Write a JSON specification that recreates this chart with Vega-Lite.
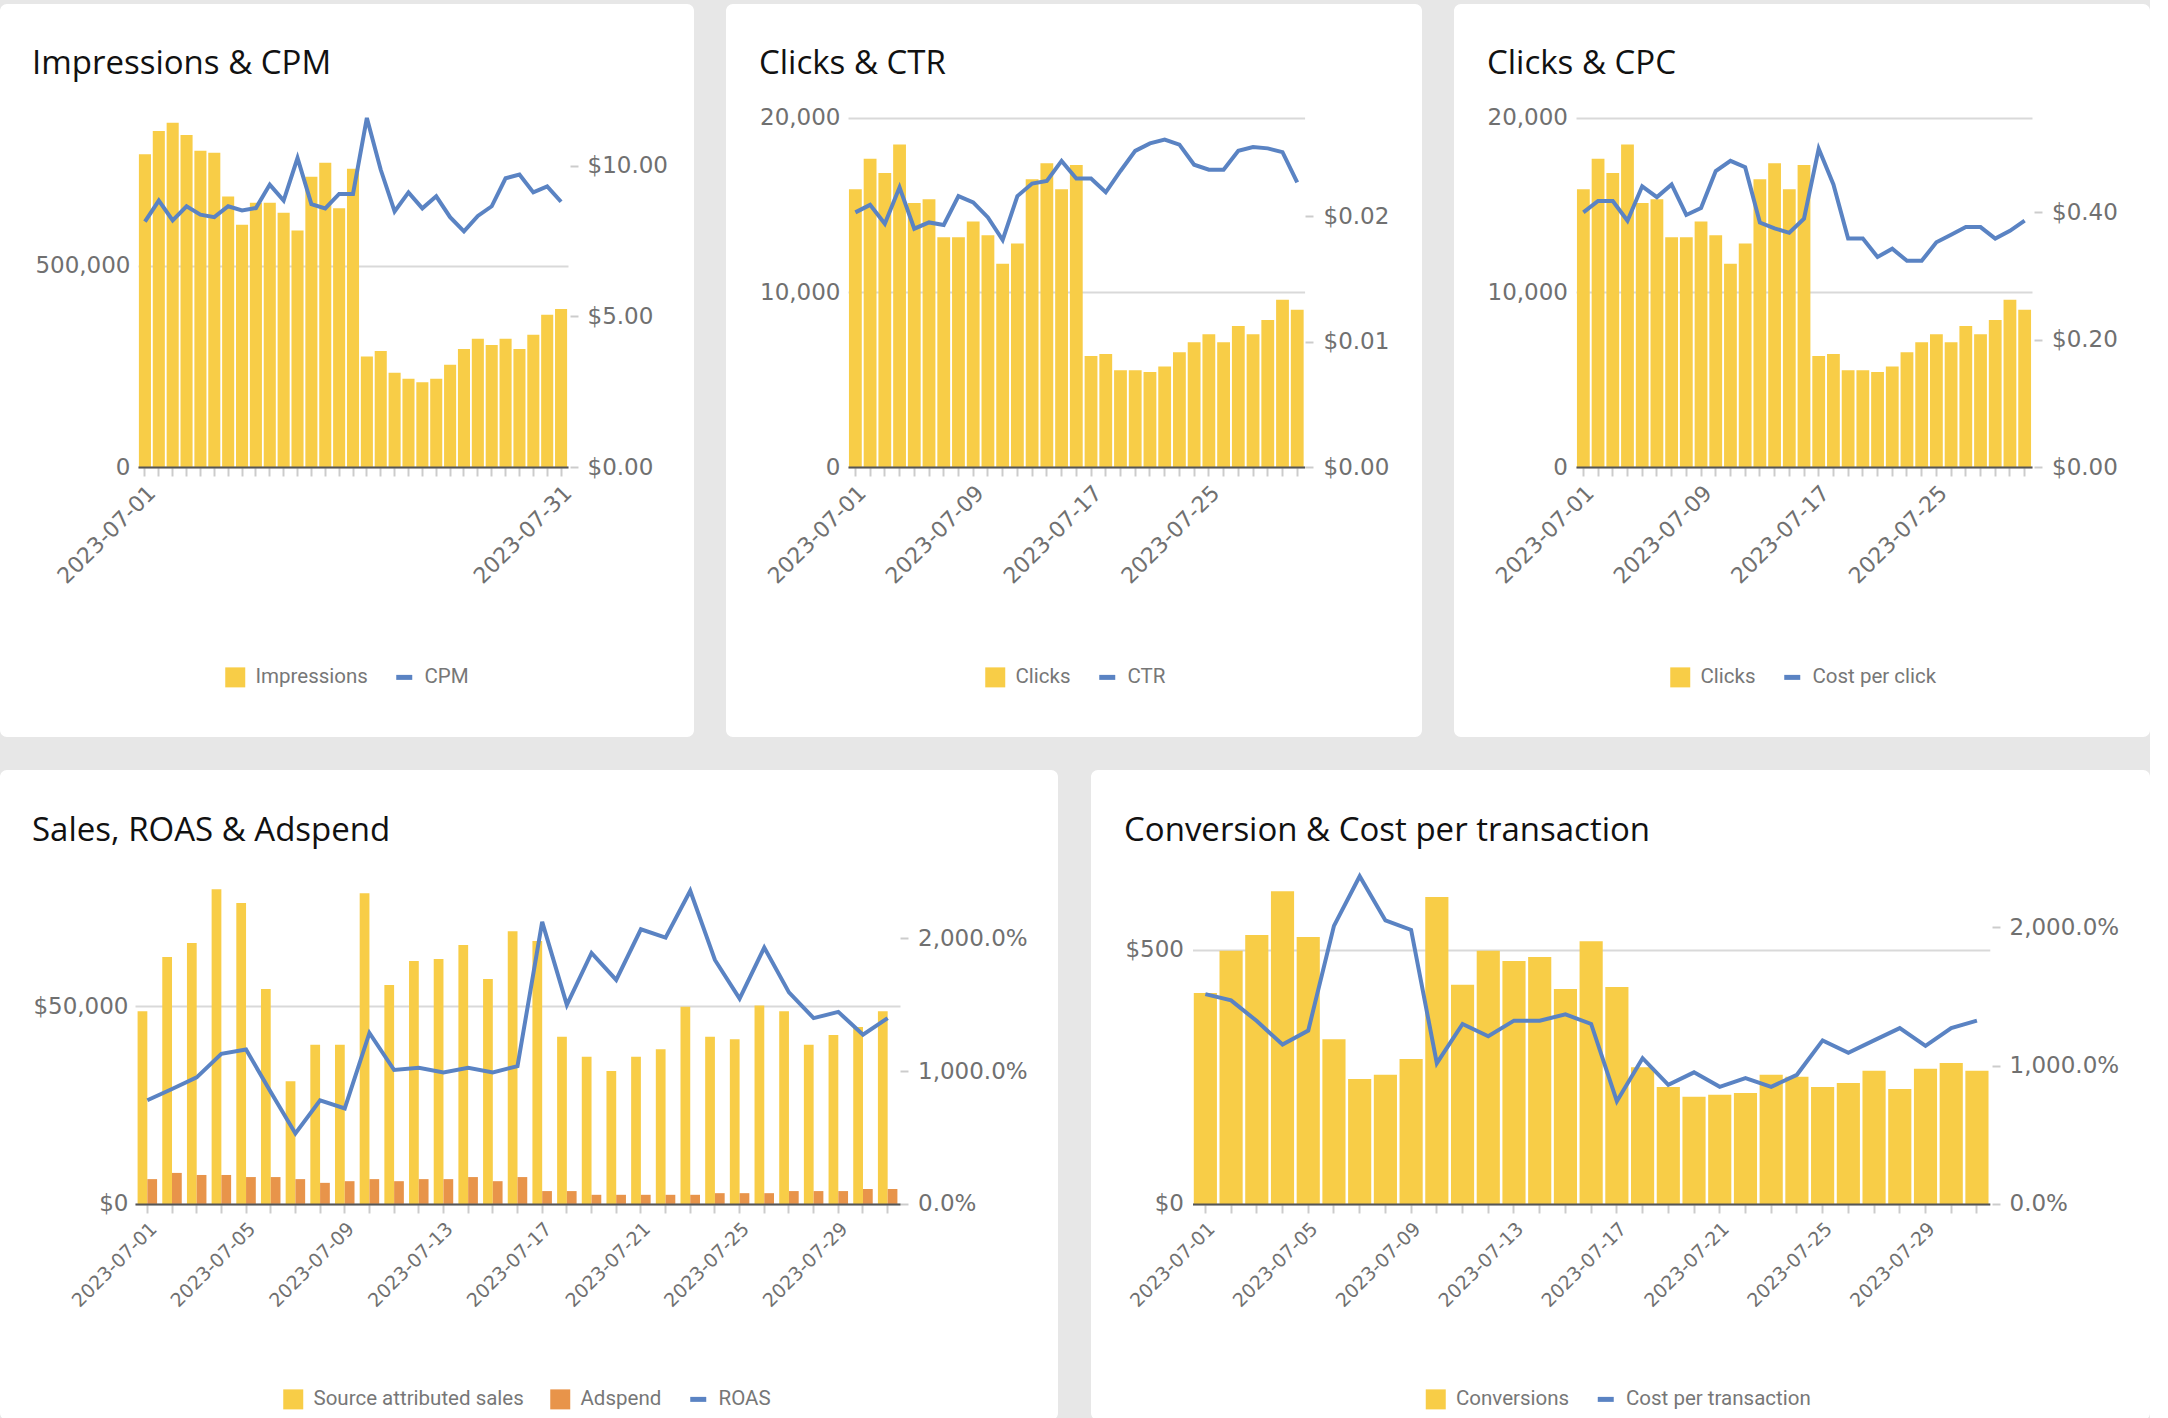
{
  "$schema": "https://vega.github.io/schema/vega-lite/v6.json",
  "background": "#e7e7e7",
  "padding": {"left": 0, "top": 4, "right": 0, "bottom": 0},
  "config": {
    "view": {"fill": "white", "stroke": null, "cornerRadius": 7},
    "axis": {"labelFont": "DejaVu Sans", "labelColor": "#707070", "labelFontSize": 23, "gridColor": "#d9d9d9", "gridWidth": 2, "tickColor": "#cccccc", "tickWidth": 2, "domainColor": "#555555", "domainWidth": 2},
    "title": {"font": "Open Sans", "fontSize": 33, "fontWeight": "normal", "color": "#111111", "anchor": "start", "frame": "group", "baseline": "alphabetic"},
    "legend": {"orient": "none", "direction": "horizontal", "symbolSize": 400, "labelFont": "Roboto", "labelFontSize": 20.5, "labelColor": "#777777", "labelOffset": 10, "columnPadding": 26, "labelLimit": 400, "symbolStrokeWidth": 0}
  },
  "data": {"values": [
    {"date": "2023-07-01", "impressions": 776000, "cpm": 8.14, "clicks": 15900, "ctr": 0.0203, "cpc": 0.400, "sales": 48700, "adspend": 6260, "roas": 7.81, "conversions": 415, "cpt": 15.18},
    {"date": "2023-07-02", "impressions": 834000, "cpm": 8.84, "clicks": 17640, "ctr": 0.0209, "cpc": 0.418, "sales": 62400, "adspend": 7830, "roas": 8.66, "conversions": 498, "cpt": 14.73},
    {"date": "2023-07-03", "impressions": 854000, "cpm": 8.18, "clicks": 16820, "ctr": 0.0194, "cpc": 0.418, "sales": 65900, "adspend": 7310, "roas": 9.53, "conversions": 529, "cpt": 13.23},
    {"date": "2023-07-04", "impressions": 824000, "cpm": 8.65, "clicks": 18450, "ctr": 0.0223, "cpc": 0.387, "sales": 79500, "adspend": 7310, "roas": 11.31, "conversions": 615, "cpt": 11.53},
    {"date": "2023-07-05", "impressions": 785000, "cpm": 8.37, "clicks": 15110, "ctr": 0.0190, "cpc": 0.441, "sales": 76000, "adspend": 6780, "roas": 11.63, "conversions": 525, "cpt": 12.54},
    {"date": "2023-07-06", "impressions": 780000, "cpm": 8.29, "clicks": 15330, "ctr": 0.0195, "cpc": 0.424, "sales": 54300, "adspend": 6780, "roas": 8.44, "conversions": 324, "cpt": 20.12},
    {"date": "2023-07-07", "impressions": 671000, "cpm": 8.65, "clicks": 13150, "ctr": 0.0193, "cpc": 0.444, "sales": 31000, "adspend": 6260, "roas": 5.31, "conversions": 246, "cpt": 23.71},
    {"date": "2023-07-08", "impressions": 601000, "cpm": 8.51, "clicks": 13150, "ctr": 0.0216, "cpc": 0.396, "sales": 40200, "adspend": 5320, "roas": 7.81, "conversions": 254, "cpt": 20.51},
    {"date": "2023-07-09", "impressions": 656000, "cpm": 8.59, "clicks": 14050, "ctr": 0.0211, "cpc": 0.407, "sales": 40200, "adspend": 5740, "roas": 7.19, "conversions": 285, "cpt": 19.82},
    {"date": "2023-07-10", "impressions": 656000, "cpm": 9.37, "clicks": 13260, "ctr": 0.0199, "cpc": 0.465, "sales": 78500, "adspend": 6260, "roas": 12.88, "conversions": 604, "cpt": 10.18},
    {"date": "2023-07-11", "impressions": 631000, "cpm": 8.84, "clicks": 11630, "ctr": 0.0181, "cpc": 0.481, "sales": 55300, "adspend": 5740, "roas": 10.09, "conversions": 431, "cpt": 13.02},
    {"date": "2023-07-12", "impressions": 587000, "cpm": 10.25, "clicks": 12800, "ctr": 0.0216, "cpc": 0.471, "sales": 61400, "adspend": 6260, "roas": 10.25, "conversions": 498, "cpt": 12.13},
    {"date": "2023-07-13", "impressions": 720000, "cpm": 8.72, "clicks": 16470, "ctr": 0.0226, "cpc": 0.384, "sales": 61900, "adspend": 6260, "roas": 9.91, "conversions": 478, "cpt": 13.26},
    {"date": "2023-07-14", "impressions": 755000, "cpm": 8.58, "clicks": 17390, "ctr": 0.0228, "cpc": 0.375, "sales": 65400, "adspend": 6780, "roas": 10.25, "conversions": 486, "cpt": 13.26},
    {"date": "2023-07-15", "impressions": 642000, "cpm": 9.06, "clicks": 15900, "ctr": 0.0244, "cpc": 0.368, "sales": 56800, "adspend": 5740, "roas": 9.91, "conversions": 423, "cpt": 13.71},
    {"date": "2023-07-16", "impressions": 740000, "cpm": 9.06, "clicks": 17280, "ctr": 0.0230, "cpc": 0.390, "sales": 68900, "adspend": 6780, "roas": 10.38, "conversions": 517, "cpt": 13.02},
    {"date": "2023-07-17", "impressions": 274000, "cpm": 11.58, "clicks": 6360, "ctr": 0.0230, "cpc": 0.500, "sales": 66400, "adspend": 3240, "roas": 21.25, "conversions": 427, "cpt": 7.43},
    {"date": "2023-07-18", "impressions": 288000, "cpm": 9.86, "clicks": 6470, "ctr": 0.0219, "cpc": 0.444, "sales": 42200, "adspend": 3240, "roas": 15.0, "conversions": 269, "cpt": 10.54},
    {"date": "2023-07-19", "impressions": 234000, "cpm": 8.48, "clicks": 5540, "ctr": 0.0236, "cpc": 0.359, "sales": 37200, "adspend": 2300, "roas": 18.91, "conversions": 230, "cpt": 8.62},
    {"date": "2023-07-20", "impressions": 219000, "cpm": 9.11, "clicks": 5540, "ctr": 0.0252, "cpc": 0.359, "sales": 33600, "adspend": 2300, "roas": 16.88, "conversions": 211, "cpt": 9.52},
    {"date": "2023-07-21", "impressions": 210000, "cpm": 8.58, "clicks": 5440, "ctr": 0.0258, "cpc": 0.330, "sales": 37200, "adspend": 2300, "roas": 20.69, "conversions": 215, "cpt": 8.47},
    {"date": "2023-07-22", "impressions": 219000, "cpm": 8.98, "clicks": 5760, "ctr": 0.0261, "cpc": 0.343, "sales": 39100, "adspend": 2300, "roas": 20.06, "conversions": 218, "cpt": 9.10},
    {"date": "2023-07-23", "impressions": 254000, "cpm": 8.29, "clicks": 6580, "ctr": 0.0257, "cpc": 0.324, "sales": 49800, "adspend": 2300, "roas": 23.59, "conversions": 254, "cpt": 8.47},
    {"date": "2023-07-24", "impressions": 293000, "cpm": 7.82, "clicks": 7150, "ctr": 0.0241, "cpc": 0.324, "sales": 42200, "adspend": 2710, "roas": 18.38, "conversions": 250, "cpt": 9.34},
    {"date": "2023-07-25", "impressions": 318000, "cpm": 8.33, "clicks": 7610, "ctr": 0.0237, "cpc": 0.353, "sales": 41600, "adspend": 2710, "roas": 15.47, "conversions": 230, "cpt": 11.83},
    {"date": "2023-07-26", "impressions": 303000, "cpm": 8.65, "clicks": 7150, "ctr": 0.0237, "cpc": 0.365, "sales": 50100, "adspend": 2710, "roas": 19.31, "conversions": 238, "cpt": 10.93},
    {"date": "2023-07-27", "impressions": 318000, "cpm": 9.58, "clicks": 8070, "ctr": 0.0252, "cpc": 0.377, "sales": 48700, "adspend": 3240, "roas": 15.94, "conversions": 262, "cpt": 11.83},
    {"date": "2023-07-28", "impressions": 293000, "cpm": 9.70, "clicks": 7610, "ctr": 0.0255, "cpc": 0.377, "sales": 40200, "adspend": 3240, "roas": 14.0, "conversions": 226, "cpt": 12.72},
    {"date": "2023-07-29", "impressions": 328000, "cpm": 9.11, "clicks": 8420, "ctr": 0.0254, "cpc": 0.359, "sales": 42700, "adspend": 3240, "roas": 14.47, "conversions": 266, "cpt": 11.44},
    {"date": "2023-07-30", "impressions": 378000, "cpm": 9.31, "clicks": 9570, "ctr": 0.0251, "cpc": 0.371, "sales": 44700, "adspend": 3760, "roas": 12.75, "conversions": 277, "cpt": 12.72},
    {"date": "2023-07-31", "impressions": 392000, "cpm": 8.80, "clicks": 9000, "ctr": 0.0227, "cpc": 0.387, "sales": 48700, "adspend": 3760, "roas": 14.0, "conversions": 262, "cpt": 13.26}
  ]},
  "spacing": 33,
  "resolve": {"scale": {"color": "independent"}, "legend": {"color": "independent"}},
  "vconcat": [
    {
      "spacing": 32,
      "resolve": {"scale": {"color": "independent"}, "legend": {"color": "independent"}},
      "hconcat": [
        {
          "width": 694, "height": 733,
          "title": {"text": "Impressions & CPM", "offset": -77, "dx": 32},
          "resolve": {"scale": {"y": "independent"}},
          "layer": [
            {
              "mark": {"type": "bar"},
              "encoding": {
                "x": {"field": "date", "type": "ordinal", "scale": {"range": [138, 568], "paddingInner": 0.13, "paddingOuter": 0.065},
                  "axis": {"title": null, "offset": -270, "domain": true, "ticks": true, "tickSize": 9, "grid": false, "labelAngle": -45, "labelAlign": "right", "labelBaseline": "top", "labelPadding": 6, "labelFontSize": 22, "labelOverlap": false, "zindex": 1,
                    "labelExpr": "indexof(['2023-07-01','2023-07-31'], datum.value) >= 0 ? datum.value : ''"}},
                "y": {"field": "impressions", "type": "quantitative", "scale": {"domain": [0, 1000000], "range": [463, 60], "nice": false},
                  "axis": {"title": null, "orient": "left", "offset": -138, "values": [0, 500000], "format": ",.0f", "domain": false, "ticks": false, "grid": true, "labelPadding": 8}},
                "color": {"datum": "Impressions", "type": "nominal", "scale": {"domain": ["Impressions", "CPM"], "range": ["#F8CD47", "#5A83C3"]},
                  "legend": {"title": null, "legendX": 225, "legendY": 663,
                    "encode": {"symbols": {"update": {"shape": {"signal": "datum.value === 'CPM' ? 'M-0.8,-0.25H0.8V0.25H-0.8Z' : 'square'"}, "fill": {"signal": "datum.value === 'CPM' ? '#5A83C3' : '#F8CD47'"}, "stroke": {"value": "transparent"}}}}}}
              }
            },
            {
              "mark": {"type": "line", "strokeWidth": 4},
              "encoding": {
                "x": {"field": "date", "type": "ordinal"},
                "y": {"field": "cpm", "type": "quantitative", "scale": {"domain": [0, 13.37], "range": [463, 60], "nice": false},
                  "axis": {"title": null, "orient": "right", "offset": -124, "values": [0, 5, 10], "format": "$.2f", "domain": false, "ticks": true, "tickSize": 8, "grid": false, "labelPadding": 9}},
                "color": {"datum": "CPM", "type": "nominal"}
              }
            }
          ]
        },
        {
          "width": 696, "height": 733,
          "title": {"text": "Clicks & CTR", "offset": -77, "dx": 33},
          "resolve": {"scale": {"y": "independent"}},
          "layer": [
            {
              "mark": {"type": "bar"},
              "encoding": {
                "x": {"field": "date", "type": "ordinal", "scale": {"range": [122, 578.6], "paddingInner": 0.13, "paddingOuter": 0.065},
                  "axis": {"title": null, "offset": -270, "domain": true, "ticks": true, "tickSize": 9, "grid": false, "labelAngle": -45, "labelAlign": "right", "labelBaseline": "top", "labelPadding": 6, "labelFontSize": 22, "labelOverlap": false, "zindex": 1,
                    "labelExpr": "indexof(['2023-07-01','2023-07-09','2023-07-17','2023-07-25'], datum.value) >= 0 ? datum.value : ''"}},
                "y": {"field": "clicks", "type": "quantitative", "scale": {"domain": [0, 20000], "range": [463.2, 113.5], "nice": false},
                  "axis": {"title": null, "orient": "left", "offset": -122, "values": [0, 10000, 20000], "format": ",.0f", "domain": false, "ticks": false, "grid": true, "labelPadding": 8}},
                "color": {"datum": "Clicks", "type": "nominal", "scale": {"domain": ["Clicks", "CTR"], "range": ["#F8CD47", "#5A83C3"]},
                  "legend": {"title": null, "legendX": 259, "legendY": 663,
                    "encode": {"symbols": {"update": {"shape": {"signal": "datum.value === 'CTR' ? 'M-0.8,-0.25H0.8V0.25H-0.8Z' : 'square'"}, "fill": {"signal": "datum.value === 'CTR' ? '#5A83C3' : '#F8CD47'"}, "stroke": {"value": "transparent"}}}}}}
              }
            },
            {
              "mark": {"type": "line", "strokeWidth": 4},
              "encoding": {
                "x": {"field": "date", "type": "ordinal"},
                "y": {"field": "ctr", "type": "quantitative", "scale": {"domain": [0, 0.02786], "range": [463.2, 113.5], "nice": false},
                  "axis": {"title": null, "orient": "right", "offset": -117, "values": [0, 0.01, 0.02], "format": "$.2f", "domain": false, "ticks": true, "tickSize": 8, "grid": false, "labelPadding": 10}},
                "color": {"datum": "CTR", "type": "nominal"}
              }
            }
          ]
        },
        {
          "width": 696, "height": 733,
          "title": {"text": "Clicks & CPC", "offset": -77, "dx": 33},
          "resolve": {"scale": {"y": "independent"}},
          "layer": [
            {
              "mark": {"type": "bar"},
              "encoding": {
                "x": {"field": "date", "type": "ordinal", "scale": {"range": [122, 578], "paddingInner": 0.13, "paddingOuter": 0.065},
                  "axis": {"title": null, "offset": -270, "domain": true, "ticks": true, "tickSize": 9, "grid": false, "labelAngle": -45, "labelAlign": "right", "labelBaseline": "top", "labelPadding": 6, "labelFontSize": 22, "labelOverlap": false, "zindex": 1,
                    "labelExpr": "indexof(['2023-07-01','2023-07-09','2023-07-17','2023-07-25'], datum.value) >= 0 ? datum.value : ''"}},
                "y": {"field": "clicks", "type": "quantitative", "scale": {"domain": [0, 20000], "range": [463.2, 113.5], "nice": false},
                  "axis": {"title": null, "orient": "left", "offset": -122, "values": [0, 10000, 20000], "format": ",.0f", "domain": false, "ticks": false, "grid": true, "labelPadding": 8.5}},
                "color": {"datum": "Clicks", "type": "nominal", "scale": {"domain": ["Clicks", "Cost per click"], "range": ["#F8CD47", "#5A83C3"]},
                  "legend": {"title": null, "legendX": 216, "legendY": 663,
                    "encode": {"symbols": {"update": {"shape": {"signal": "datum.value === 'Cost per click' ? 'M-0.8,-0.25H0.8V0.25H-0.8Z' : 'square'"}, "fill": {"signal": "datum.value === 'Cost per click' ? '#5A83C3' : '#F8CD47'"}, "stroke": {"value": "transparent"}}}}}}
              }
            },
            {
              "mark": {"type": "line", "strokeWidth": 4},
              "encoding": {
                "x": {"field": "date", "type": "ordinal"},
                "y": {"field": "cpc", "type": "quantitative", "scale": {"domain": [0, 0.549], "range": [463.2, 113.5], "nice": false},
                  "axis": {"title": null, "orient": "right", "offset": -116, "values": [0, 0.2, 0.4], "format": "$.2f", "domain": false, "ticks": true, "tickSize": 8, "grid": false, "labelPadding": 9.5}},
                "color": {"datum": "Cost per click", "type": "nominal"}
              }
            }
          ]
        }
      ]
    },
    {
      "spacing": 33,
      "resolve": {"scale": {"color": "independent"}, "legend": {"color": "independent"}},
      "hconcat": [
        {
          "width": 1058, "height": 650,
          "title": {"text": "Sales, ROAS & Adspend", "offset": -78, "dx": 32},
          "resolve": {"scale": {"y": "independent"}},
          "layer": [
            {
              "transform": [{"fold": ["sales", "adspend"], "as": ["series", "amount"]}],
              "mark": {"type": "bar"},
              "encoding": {
                "x": {"field": "date", "type": "ordinal", "scale": {"range": [135, 900], "paddingInner": 0.21, "paddingOuter": 0.105},
                  "axis": {"title": null, "offset": -216, "domain": true, "ticks": true, "tickSize": 9, "grid": false, "labelAngle": -45, "labelAlign": "right", "labelBaseline": "top", "labelPadding": 6, "labelFontSize": 19, "labelOverlap": false, "zindex": 1,
                    "labelExpr": "indexof(['2023-07-01','2023-07-05','2023-07-09','2023-07-13','2023-07-17','2023-07-21','2023-07-25','2023-07-29'], datum.value) >= 0 ? datum.value : ''"}},
                "xOffset": {"field": "series", "type": "nominal", "scale": {"domain": ["sales", "adspend"], "paddingInner": 0, "paddingOuter": 0}},
                "y": {"field": "amount", "type": "quantitative", "scale": {"domain": [0, 84361], "range": [433.9, 100], "nice": false},
                  "axis": {"title": null, "orient": "left", "offset": -135, "values": [0, 50000], "format": "$,.0f", "domain": false, "ticks": false, "grid": true, "labelPadding": 7}},
                "color": {"field": "series", "type": "nominal", "scale": {"domain": ["sales", "adspend", "ROAS"], "range": ["#F8CD47", "#E8944A", "#5A83C3"]},
                  "legend": {"title": null, "legendX": 283, "legendY": 619,
                    "labelExpr": "datum.label === 'sales' ? 'Source attributed sales' : datum.label === 'adspend' ? 'Adspend' : datum.label",
                    "encode": {"symbols": {"update": {"shape": {"signal": "datum.value === 'ROAS' ? 'M-0.8,-0.25H0.8V0.25H-0.8Z' : 'square'"}, "fill": {"signal": "datum.value === 'ROAS' ? '#5A83C3' : datum.value === 'adspend' ? '#E8944A' : '#F8CD47'"}, "stroke": {"value": "transparent"}}}}}}
              }
            },
            {
              "mark": {"type": "line", "strokeWidth": 4},
              "encoding": {
                "x": {"field": "date", "type": "ordinal"},
                "y": {"field": "roas", "type": "quantitative", "scale": {"domain": [0, 25.16], "range": [433.9, 100], "nice": false},
                  "axis": {"title": null, "orient": "right", "offset": -158, "values": [0, 10, 20], "format": ",.1%", "domain": false, "ticks": true, "tickSize": 8, "grid": false, "labelPadding": 9.5}},
                "color": {"datum": "ROAS", "type": "nominal"}
              }
            }
          ]
        },
        {
          "width": 1059, "height": 650,
          "title": {"text": "Conversion & Cost per transaction", "offset": -78, "dx": 33},
          "resolve": {"scale": {"y": "independent"}},
          "layer": [
            {
              "mark": {"type": "bar"},
              "encoding": {
                "x": {"field": "date", "type": "ordinal", "scale": {"range": [101.5, 898.8], "paddingInner": 0.1, "paddingOuter": 0.05},
                  "axis": {"title": null, "offset": -216, "domain": true, "ticks": true, "tickSize": 9, "grid": false, "labelAngle": -45, "labelAlign": "right", "labelBaseline": "top", "labelPadding": 6, "labelFontSize": 19, "labelOverlap": false, "zindex": 1,
                    "labelExpr": "indexof(['2023-07-01','2023-07-05','2023-07-09','2023-07-13','2023-07-17','2023-07-21','2023-07-25','2023-07-29'], datum.value) >= 0 ? datum.value : ''"}},
                "y": {"field": "conversions", "type": "quantitative", "scale": {"domain": [0, 657], "range": [433.9, 100], "nice": false},
                  "axis": {"title": null, "orient": "left", "offset": -101.5, "values": [0, 500], "format": "$,.0f", "domain": false, "ticks": false, "grid": true, "labelPadding": 9}},
                "color": {"datum": "Conversions", "type": "nominal", "scale": {"domain": ["Conversions", "Cost per transaction"], "range": ["#F8CD47", "#5A83C3"]},
                  "legend": {"title": null, "legendX": 334.5, "legendY": 619,
                    "encode": {"symbols": {"update": {"shape": {"signal": "datum.value === 'Cost per transaction' ? 'M-0.8,-0.25H0.8V0.25H-0.8Z' : 'square'"}, "fill": {"signal": "datum.value === 'Cost per transaction' ? '#5A83C3' : '#F8CD47'"}, "stroke": {"value": "transparent"}}}}}}
              }
            },
            {
              "mark": {"type": "line", "strokeWidth": 4},
              "encoding": {
                "x": {"field": "date", "type": "ordinal"},
                "y": {"field": "cpt", "type": "quantitative", "scale": {"domain": [0, 24.16], "range": [433.9, 100], "nice": false},
                  "axis": {"title": null, "orient": "right", "offset": -158, "values": [0, 10, 20], "format": ",.1%", "domain": false, "ticks": true, "tickSize": 8, "grid": false, "labelPadding": 9}},
                "color": {"datum": "Cost per transaction", "type": "nominal"}
              }
            }
          ]
        }
      ]
    }
  ]
}
